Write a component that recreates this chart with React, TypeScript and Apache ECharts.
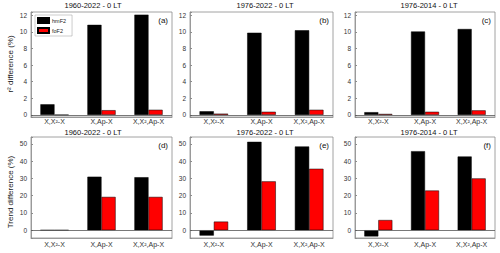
import React, { useEffect, useRef } from 'react';
import * as echarts from 'echarts';

const categories = ['X,X²-X', 'X,Ap-X', 'X,X²,Ap-X'];
const seriesNames = ['hmF2', 'foF2'];
const titles = ['1960-2022 - 0 LT', '1976-2022 - 0 LT', '1976-2014 - 0 LT', '1960-2022 - 0 LT', '1976-2022 - 0 LT', '1976-2014 - 0 LT'];
const panelLabels = ['(a)', '(b)', '(c)', '(d)', '(e)', '(f)'];
const yLabels = ['r² difference (%)', 'Trend difference (%)'];

// r² difference (%)
const hmF2A = [1.28, 10.85, 12.08];
const foF2A = [0, 0.57, 0.62];
const hmF2B = [0.44, 9.9, 10.2];
const foF2B = [0.15, 0.38, 0.62];
const hmF2C = [0.33, 10.05, 10.35];
const foF2C = [0.12, 0.38, 0.55];
// Trend difference (%)
const hmF2D = [0, 31, 30.7];
const foF2D = [0, 19.3, 19.3];
const hmF2E = [-3.1, 51.2, 48.5];
const foF2E = [5.0, 28.3, 35.6];
const hmF2F = [-3.6, 45.8, 42.7];
const foF2F = [5.9, 23.0, 30.0];

const panels = [
  [hmF2A, foF2A], [hmF2B, foF2B], [hmF2C, foF2C],
  [hmF2D, foF2D], [hmF2E, foF2E], [hmF2F, foF2F],
];

const FONT = 'Liberation Sans, Arial, sans-serif';

export default function App() {
  const ref = useRef<HTMLDivElement>(null);
  useEffect(() => {
    if (!ref.current) return;
    const chart = echarts.init(ref.current, null, { renderer: 'svg' });
    const lefts = [31, 190, 355];
    const widths = [141, 143, 140];
    const tops = [12, 137];
    const heights = [105, 101];
    const titleCenters = [93, 265, 429];
    const titleTops = [1, 128];

    const grids: any[] = [];
    const xAxes: any[] = [];
    const yAxes: any[] = [];
    const series: any[] = [];
    const titleArr: any[] = [];
    const graphics: any[] = [];

    for (let i = 0; i < 6; i++) {
      const col = i % 3;
      const row = Math.floor(i / 3);
      grids.push({
        left: lefts[col], top: tops[row], width: widths[col], height: heights[row],
        show: true, borderColor: '#8c8c8c', borderWidth: 0.8, backgroundColor: '#fff',
      });
      xAxes.push({
        type: 'category', gridIndex: i, data: categories,
        axisLine: { onZero: false, lineStyle: { color: '#8c8c8c', width: 0.8 } },
        axisTick: { inside: true, alignWithLabel: true, length: 2, lineStyle: { color: '#8c8c8c' } },
        axisLabel: { fontSize: 7, color: '#333', margin: row === 0 ? 1 : 3, fontFamily: FONT },
      });
      const step = row === 0 ? 2 : 10;
      yAxes.push({
        type: 'value', gridIndex: i,
        min: row === 0 ? -0.25 : -4.5,
        max: row === 0 ? 12.4 : 54,
        splitNumber: 6,
        splitLine: { show: false },
        axisLine: { show: true, lineStyle: { color: '#8c8c8c', width: 0.8 } },
        axisTick: { show: true, inside: true, length: 2, lineStyle: { color: '#8c8c8c' } },
        axisLabel: {
          fontSize: 6.5, color: '#333', margin: 4, fontFamily: FONT,
          formatter: (v: number) => (Math.abs(v / step - Math.round(v / step)) < 1e-6 ? String(Math.round(v)) : ''),
        },
      });
      const [h, f] = panels[i];
      series.push({
        type: 'bar', name: seriesNames[0], xAxisIndex: i, yAxisIndex: i, data: h,
        barCategoryGap: '40%', barGap: '0%',
        itemStyle: { color: '#000', borderColor: '#000', borderWidth: 0.5 },
        markLine: {
          silent: true, symbol: 'none', label: { show: false },
          lineStyle: { color: '#555', width: 0.8, type: 'solid' },
          data: [{ yAxis: 0 }],
        },
      });
      series.push({
        type: 'bar', name: seriesNames[1], xAxisIndex: i, yAxisIndex: i, data: f,
        barCategoryGap: '40%', barGap: '0%',
        itemStyle: { color: '#ff0000', borderColor: '#000', borderWidth: 0.5 },
      });
      titleArr.push({
        text: titles[i], left: titleCenters[col], top: titleTops[row], textAlign: 'center',
        padding: 0,
        textStyle: { fontSize: 7.5, fontWeight: 'normal', color: '#111', fontFamily: FONT },
      });
      graphics.push({
        type: 'text', x: lefts[col] + widths[col] - 4, y: tops[row] + 8,
        style: { text: panelLabels[i], fontSize: 8, fill: '#111', fontFamily: FONT, align: 'right', verticalAlign: 'middle' },
      });
    }
    graphics.push({
      type: 'text', x: 10, y: 64, rotation: Math.PI / 2,
      style: { text: yLabels[0], fontSize: 8, fill: '#222', fontFamily: FONT, align: 'center', verticalAlign: 'middle' },
    });
    graphics.push({
      type: 'text', x: 10, y: 192, rotation: Math.PI / 2,
      style: { text: yLabels[1], fontSize: 8, fill: '#222', fontFamily: FONT, align: 'center', verticalAlign: 'middle' },
    });

    chart.setOption({
      animation: false,
      backgroundColor: '#fff',
      title: titleArr,
      grid: grids,
      xAxis: xAxes,
      yAxis: yAxes,
      series,
      graphic: graphics,
      legend: {
        data: seriesNames, left: 35, top: 15, orient: 'vertical', icon: 'rect',
        itemWidth: 11, itemHeight: 5, itemGap: 3, padding: [2, 6, 2, 2],
        borderColor: '#999', borderWidth: 0.5, backgroundColor: '#fff',
        textStyle: { fontSize: 5.5, color: '#222', fontFamily: FONT, padding: [0, 0, 0, -2] },
        selectedMode: false,
      },
    });
    return () => chart.dispose();
  }, []);
  return <div ref={ref} style={{ position: 'absolute', left: 0, top: 0, width: 500, height: 253 }} />;
}
